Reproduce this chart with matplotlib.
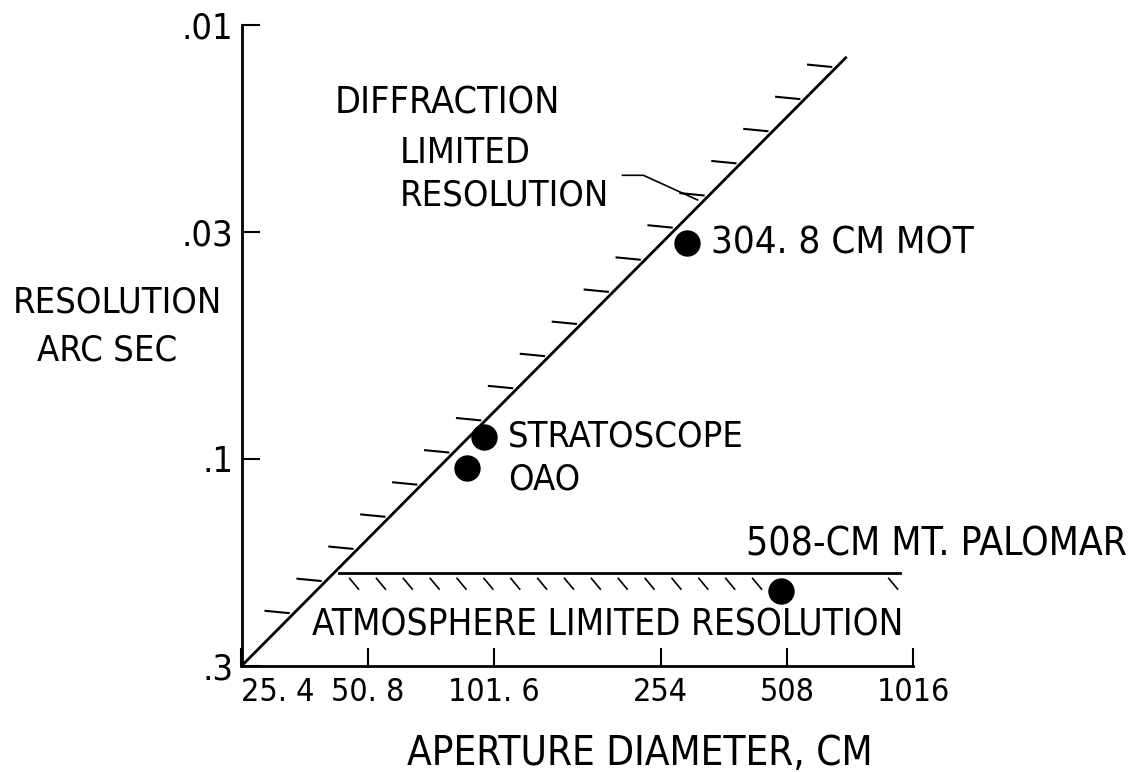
import numpy as np
import matplotlib.pyplot as plt

plt.rcParams['font.family'] = ['DejaVu Sans']
plt.rcParams['font.stretch'] = 'condensed'

# axes
x_ticks = [25.4, 50.8, 101.6, 254, 508, 1016]
x_tick_labels = ['25. 4', '50. 8', '101. 6', '254', '508', '1016']
y_ticks = [0.01, 0.03, 0.1, 0.3]
y_tick_labels = ['.01', '.03', '.1', '.3']

# limit lines (aperture cm, resolution arc sec)
diff_d = [25.4, 702]
diff_res = [0.3, 0.0119]
atm_d = [43.4, 946]
atm_res = [0.183, 0.183]

# telescopes
scopes = ['304. 8 CM MOT', 'STRATOSCOPE', 'OAO', '508-CM MT. PALOMAR']
scope_d = [293, 96.4, 87.8, 491]
scope_res = [0.0318, 0.0889, 0.1048, 0.201]
label_off = [(24, 0), (24, 0), (41, -12), (-35, 46)]
label_size = [27.5, 26, 26, 28]

# leader from the DIFFRACTION label to the line
lead_d = [206, 231, 311]
lead_res = [0.0222, 0.0222, 0.0253]

fig = plt.figure(figsize=(11.4, 7.72), dpi=100)
ax = fig.add_axes([241.5 / 1140, 1 - 666 / 772, (913 - 241.5) / 1140, (666 - 25) / 772])
ax.set_xscale('log')
ax.set_yscale('log')
ax.set_xlim(25.4, 1016)
ax.set_ylim(0.3, 0.01)

ax.plot(diff_d, diff_res, color='black', lw=2)
ax.plot(atm_d, atm_res, color='black', lw=2)
ax.plot(lead_d, lead_res, color='black', lw=1.2)

# hatch dashes on the diffraction line (left side)
ld = np.log10(diff_d)
lr = np.log10(diff_res)
for t in np.linspace(0.087, 0.985, 18):
    d = 10 ** (ld[0] + t * (ld[1] - ld[0]))
    r = 10 ** (lr[0] + t * (lr[1] - lr[0]))
    ax.plot([d / 1.17, d / 1.03], [r / 1.012, r], color='black', lw=1.5)

# hatch ticks under the atmosphere line
hatch_x = list(np.geomspace(atm_d[0] * 1.06, 421, 16)) + [atm_d[1] * 0.94]
for d in hatch_x:
    ax.plot([d, d * 1.05], [atm_res[0] * 1.03, atm_res[0] * 1.09], color='black', lw=1.2)

ax.plot(scope_d, scope_res, 'o', color='black', ms=18)
for name, d, r, off, fs in zip(scopes, scope_d, scope_res, label_off, label_size):
    ax.annotate(name, (d, r), xytext=off, textcoords='offset pixels',
                ha='left', va='center', fontsize=fs)

ax.set_xticks(x_ticks)
ax.set_xticklabels(x_tick_labels)
ax.set_yticks(y_ticks)
ax.set_yticklabels(y_tick_labels)
ax.minorticks_off()
ax.tick_params(axis='both', direction='in', length=13, width=1.5, color='black')
ax.tick_params(axis='x', pad=8, labelsize=23)
ax.tick_params(axis='y', pad=6, labelsize=26)
ax.get_xticklabels()[0].set_ha('left')
for s in ['top', 'right']:
    ax.spines[s].set_visible(False)
for s in ['left', 'bottom']:
    ax.spines[s].set_linewidth(2)

def px(x, y):
    return x / 1140, 1 - y / 772

fig.text(*px(335, 103), 'DIFFRACTION', ha='left', va='center', fontsize=27)
fig.text(*px(400, 153), 'LIMITED', ha='left', va='center', fontsize=26)
fig.text(*px(400, 195), 'RESOLUTION', ha='left', va='center', fontsize=26)
fig.text(*px(117, 302), 'RESOLUTION', ha='center', va='center', fontsize=26)
fig.text(*px(107, 350), 'ARC SEC', ha='center', va='center', fontsize=26)
fig.text(*px(608, 625), 'ATMOSPHERE LIMITED RESOLUTION', ha='center', va='center', fontsize=26.5)
fig.text(*px(640, 754), 'APERTURE DIAMETER, CM', ha='center', va='center', fontsize=29)

fig.savefig('out.png', dpi=100)
